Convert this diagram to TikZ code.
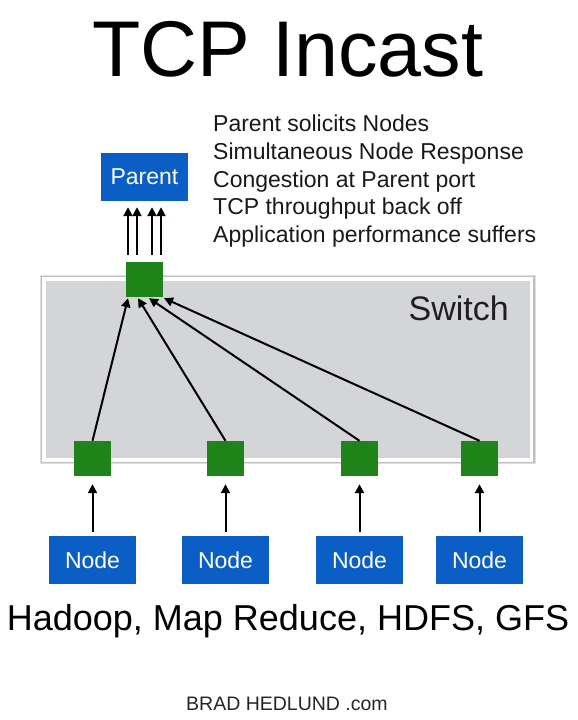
\documentclass[tikz,border=0pt]{standalone}
\usepackage{fontspec}
\setmainfont{Liberation Sans}
\usetikzlibrary{arrows.meta,calc}
\definecolor{nodeblue}{HTML}{0B5EC4}
\definecolor{portgreen}{HTML}{1E841A}
\definecolor{switchgray}{HTML}{D4D5D9}
\begin{document}
\begin{tikzpicture}[x=1pt,y=-1pt,
  host/.style={fill=nodeblue,text=white,minimum width=87pt,minimum height=48pt,inner sep=0pt,font=\fontsize{23}{26}\selectfont},
  port/.style={fill=portgreen,minimum width=37pt,minimum height=35pt,inner sep=0pt},
  arr/.style={line width=2pt,-{Triangle[length=9pt,width=9pt]}},
  listline/.style={anchor=base west,inner sep=0pt,font=\fontsize{23}{26}\selectfont,text=black!90}]
\useasboundingbox (0,0) rectangle (578,720);
\fill[white] (0,0) rectangle (578,720);
% title
\node[anchor=base,inner sep=0pt,font=\fontsize{79}{90}\selectfont] (title) at (288,76) {TCP Incast};
% list
\node[listline] (l1) at (213,131) {Parent solicits Nodes};
\node[listline] (l2) at (213,159) {Simultaneous Node Response};
\node[listline] (l3) at (213,187) {Congestion at Parent port};
\node[listline] (l4) at (213,214) {TCP throughput back off};
\node[listline] (l5) at (213,242) {Application performance suffers};
% switch
\fill[black!12] (40,275) rectangle (536,464);
\fill[black!25] (41,276) rectangle (535,463);
\fill[white] (42,277) rectangle (533,462);
\fill[switchgray] (46,281) rectangle (530,458);
\node[anchor=base east,inner sep=0pt,font=\fontsize{34}{40}\selectfont,text=black!88] (swlabel) at (509,320) {Switch};
% parent and ports
\node[host] (parent) at (144.5,177) {Parent};
\node[port] (top) at (144.5,279.5) {};
\node[port] (p1) at (92.5,458.5) {};
\node[port] (p2) at (225.5,458.5) {};
\node[port] (p3) at (359.5,458.5) {};
\node[port] (p4) at (479.5,458.5) {};
\node[host] (h1) at (92.5,560) {Node};
\node[host] (h2) at (225.5,560) {Node};
\node[host] (h3) at (359.5,560) {Node};
\node[host] (h4) at (479.5,560) {Node};
% arrows to parent
\foreach \dx in {-16.5,-7.5,7.5,16.5}
  \draw[arr,shorten <=7pt,shorten >=6pt] ([xshift=\dx pt]top.north) -- ([xshift=\dx pt]parent.south);
% diagonal arrows
\draw[arr] (p1.north) -- ([xshift=-16.5pt,yshift=-1pt]top.south);
\draw[arr] (p2.north) -- ([xshift=-6.5pt,yshift=-1pt]top.south);
\draw[arr] (p3.north) -- ([xshift=4.5pt,yshift=-1pt]top.south);
\draw[arr] (p4.north) -- ([xshift=19.5pt,yshift=-1pt]top.south);
% node arrows
\draw[arr,shorten <=4pt,shorten >=8pt] (h1.north) -- (p1.south);
\draw[arr,shorten <=4pt,shorten >=8pt] (h2.north) -- (p2.south);
\draw[arr,shorten <=4pt,shorten >=8pt] (h3.north) -- (p3.south);
\draw[arr,shorten <=4pt,shorten >=8pt] (h4.north) -- (p4.south);
% bottom texts
\node[anchor=base,inner sep=0pt,font=\fontsize{36}{40}\selectfont] (apps) at (288,630) {Hadoop, Map Reduce, HDFS, GFS};
\node[anchor=base,inner sep=0pt,font=\fontsize{19.5}{22}\selectfont,text=black!85] (footer) at (287,710) {BRAD HEDLUND .com};
\end{tikzpicture}
\end{document}
